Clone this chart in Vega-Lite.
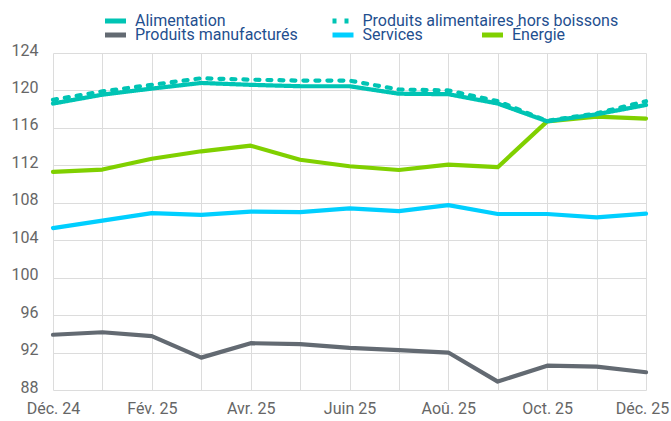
{
  "$schema": "https://vega.github.io/schema/vega-lite/v6.json",
  "width": 593,
  "height": 337,
  "autosize": {"type": "none"},
  "padding": {"left": 53, "top": 53, "right": 25, "bottom": 31},
  "background": "white",
  "config": {
    "view": {"stroke": null},
    "font": "Roboto",
    "axis": {
      "domain": false,
      "ticks": false,
      "grid": true,
      "gridColor": "#dcdcdc",
      "gridWidth": 1,
      "labelFont": "Roboto",
      "labelFontSize": 16,
      "labelColor": "#666666",
      "title": null
    },
    "legend": {
      "labelFont": "Roboto",
      "labelFontSize": 16,
      "labelColor": "#1f4f8f",
      "symbolType": "stroke",
      "symbolSize": 441,
      "symbolStrokeWidth": 5,
      "labelOffset": 6.5,
      "padding": 0,
      "title": null,
      "labelLimit": 400,
      "orient": "none",
      "direction": "horizontal"
    }
  },
  "data": {
    "values": [
      {"mois": "Déc. 24", "serie": "Alimentation", "valeur": 118.6},
      {"mois": "Janv. 25", "serie": "Alimentation", "valeur": 119.55},
      {"mois": "Fév. 25", "serie": "Alimentation", "valeur": 120.2},
      {"mois": "Mars 25", "serie": "Alimentation", "valeur": 120.8},
      {"mois": "Avr. 25", "serie": "Alimentation", "valeur": 120.6},
      {"mois": "Mai 25", "serie": "Alimentation", "valeur": 120.45},
      {"mois": "Juin 25", "serie": "Alimentation", "valeur": 120.45},
      {"mois": "Juil. 25", "serie": "Alimentation", "valeur": 119.65},
      {"mois": "Aoû. 25", "serie": "Alimentation", "valeur": 119.6},
      {"mois": "Sept. 25", "serie": "Alimentation", "valeur": 118.6},
      {"mois": "Oct. 25", "serie": "Alimentation", "valeur": 116.7},
      {"mois": "Nov. 25", "serie": "Alimentation", "valeur": 117.45},
      {"mois": "Déc. 25", "serie": "Alimentation", "valeur": 118.45},
      {"mois": "Déc. 24", "serie": "Produits alimentaires hors boissons", "valeur": 119.0},
      {"mois": "Janv. 25", "serie": "Produits alimentaires hors boissons", "valeur": 119.9},
      {"mois": "Fév. 25", "serie": "Produits alimentaires hors boissons", "valeur": 120.6},
      {"mois": "Mars 25", "serie": "Produits alimentaires hors boissons", "valeur": 121.3},
      {"mois": "Avr. 25", "serie": "Produits alimentaires hors boissons", "valeur": 121.15},
      {"mois": "Mai 25", "serie": "Produits alimentaires hors boissons", "valeur": 121.05},
      {"mois": "Juin 25", "serie": "Produits alimentaires hors boissons", "valeur": 121.05},
      {"mois": "Juil. 25", "serie": "Produits alimentaires hors boissons", "valeur": 120.1},
      {"mois": "Aoû. 25", "serie": "Produits alimentaires hors boissons", "valeur": 120.0},
      {"mois": "Sept. 25", "serie": "Produits alimentaires hors boissons", "valeur": 118.85},
      {"mois": "Oct. 25", "serie": "Produits alimentaires hors boissons", "valeur": 116.75},
      {"mois": "Nov. 25", "serie": "Produits alimentaires hors boissons", "valeur": 117.55},
      {"mois": "Déc. 25", "serie": "Produits alimentaires hors boissons", "valeur": 118.85},
      {"mois": "Déc. 24", "serie": "Produits manufacturés", "valeur": 93.9},
      {"mois": "Janv. 25", "serie": "Produits manufacturés", "valeur": 94.17},
      {"mois": "Fév. 25", "serie": "Produits manufacturés", "valeur": 93.75},
      {"mois": "Mars 25", "serie": "Produits manufacturés", "valeur": 91.46},
      {"mois": "Avr. 25", "serie": "Produits manufacturés", "valeur": 93.0},
      {"mois": "Mai 25", "serie": "Produits manufacturés", "valeur": 92.9},
      {"mois": "Juin 25", "serie": "Produits manufacturés", "valeur": 92.5},
      {"mois": "Juil. 25", "serie": "Produits manufacturés", "valeur": 92.25},
      {"mois": "Aoû. 25", "serie": "Produits manufacturés", "valeur": 92.0},
      {"mois": "Sept. 25", "serie": "Produits manufacturés", "valeur": 88.9},
      {"mois": "Oct. 25", "serie": "Produits manufacturés", "valeur": 90.6},
      {"mois": "Nov. 25", "serie": "Produits manufacturés", "valeur": 90.5},
      {"mois": "Déc. 25", "serie": "Produits manufacturés", "valeur": 89.9},
      {"mois": "Déc. 24", "serie": "Services", "valeur": 105.3},
      {"mois": "Janv. 25", "serie": "Services", "valeur": 106.1},
      {"mois": "Fév. 25", "serie": "Services", "valeur": 106.9},
      {"mois": "Mars 25", "serie": "Services", "valeur": 106.7},
      {"mois": "Avr. 25", "serie": "Services", "valeur": 107.05},
      {"mois": "Mai 25", "serie": "Services", "valeur": 107.0},
      {"mois": "Juin 25", "serie": "Services", "valeur": 107.4},
      {"mois": "Juil. 25", "serie": "Services", "valeur": 107.1},
      {"mois": "Aoû. 25", "serie": "Services", "valeur": 107.75},
      {"mois": "Sept. 25", "serie": "Services", "valeur": 106.8},
      {"mois": "Oct. 25", "serie": "Services", "valeur": 106.8},
      {"mois": "Nov. 25", "serie": "Services", "valeur": 106.45},
      {"mois": "Déc. 25", "serie": "Services", "valeur": 106.85},
      {"mois": "Déc. 24", "serie": "Énergie", "valeur": 111.3},
      {"mois": "Janv. 25", "serie": "Énergie", "valeur": 111.55},
      {"mois": "Fév. 25", "serie": "Énergie", "valeur": 112.7},
      {"mois": "Mars 25", "serie": "Énergie", "valeur": 113.5},
      {"mois": "Avr. 25", "serie": "Énergie", "valeur": 114.1},
      {"mois": "Mai 25", "serie": "Énergie", "valeur": 112.6},
      {"mois": "Juin 25", "serie": "Énergie", "valeur": 111.9},
      {"mois": "Juil. 25", "serie": "Énergie", "valeur": 111.5},
      {"mois": "Aoû. 25", "serie": "Énergie", "valeur": 112.07},
      {"mois": "Sept. 25", "serie": "Énergie", "valeur": 111.8},
      {"mois": "Oct. 25", "serie": "Énergie", "valeur": 116.7},
      {"mois": "Nov. 25", "serie": "Énergie", "valeur": 117.2},
      {"mois": "Déc. 25", "serie": "Énergie", "valeur": 117.0}
    ]
  },
  "encoding": {
    "x": {
      "field": "mois",
      "type": "ordinal",
      "sort": null,
      "scale": {"type": "point", "padding": 0},
      "axis": {
        "labelAngle": 0,
        "labelPadding": 10,
        "labelOverlap": false,
        "labelOffset": {"condition": {"test": "datum.value === 'Déc. 25'", "value": -4}, "value": 0},
        "labelExpr": "indexof(['Déc. 24','Fév. 25','Avr. 25','Juin 25','Aoû. 25','Oct. 25','Déc. 25'], datum.value) >= 0 ? datum.value : ''"
      }
    },
    "y": {
      "field": "valeur",
      "type": "quantitative",
      "scale": {"domain": [88, 124], "nice": false, "zero": false},
      "axis": {"values": [88, 92, 96, 100, 104, 108, 112, 116, 120, 124], "labelPadding": 15, "labelOffset": -3}
    }
  },
  "layer": [
    {
      "transform": [{"filter": "datum.serie === 'Énergie'"}],
      "mark": {"type": "line", "strokeWidth": 4.2, "strokeCap": "round", "strokeJoin": "round"},
      "encoding": {
        "color": {
          "field": "serie",
          "type": "nominal",
          "scale": {"domain": ["Énergie"], "range": ["#80d000"]},
          "legend": {"legendX": 426.5, "legendY": -31}
        }
      }
    },
    {
      "transform": [{"filter": "datum.serie === 'Produits manufacturés' || datum.serie === 'Services'"}],
      "mark": {"type": "line", "strokeWidth": 4.2, "strokeCap": "round", "strokeJoin": "round"},
      "encoding": {
        "color": {
          "field": "serie",
          "type": "nominal",
          "scale": {"domain": ["Produits manufacturés", "Services"], "range": ["#636a72", "#00cfff"]},
          "legend": {"legendX": 49.5, "legendY": -31, "columns": 2, "columnPadding": 23.5}
        }
      }
    },
    {
      "transform": [{"filter": "datum.serie === 'Alimentation' || datum.serie === 'Produits alimentaires hors boissons'"}],
      "mark": {"type": "line", "strokeWidth": 4.2, "strokeCap": "round", "strokeJoin": "round"},
      "encoding": {
        "color": {
          "field": "serie",
          "type": "nominal",
          "scale": {"domain": ["Alimentation", "Produits alimentaires hors boissons"], "range": ["#00c4b4", "#00c4b4"]},
          "legend": {"legendX": 49.5, "legendY": -45, "columns": 2, "columnPadding": 95.5}
        },
        "strokeDash": {
          "field": "serie",
          "type": "nominal",
          "scale": {"domain": ["Alimentation", "Produits alimentaires hors boissons"], "range": [[1, 0], [4, 8]]},
          "legend": {"legendX": 49.5, "legendY": -45, "columns": 2, "columnPadding": 95.5}
        }
      }
    }
  ],
  "resolve": {"scale": {"color": "independent", "strokeDash": "independent"}}
}
